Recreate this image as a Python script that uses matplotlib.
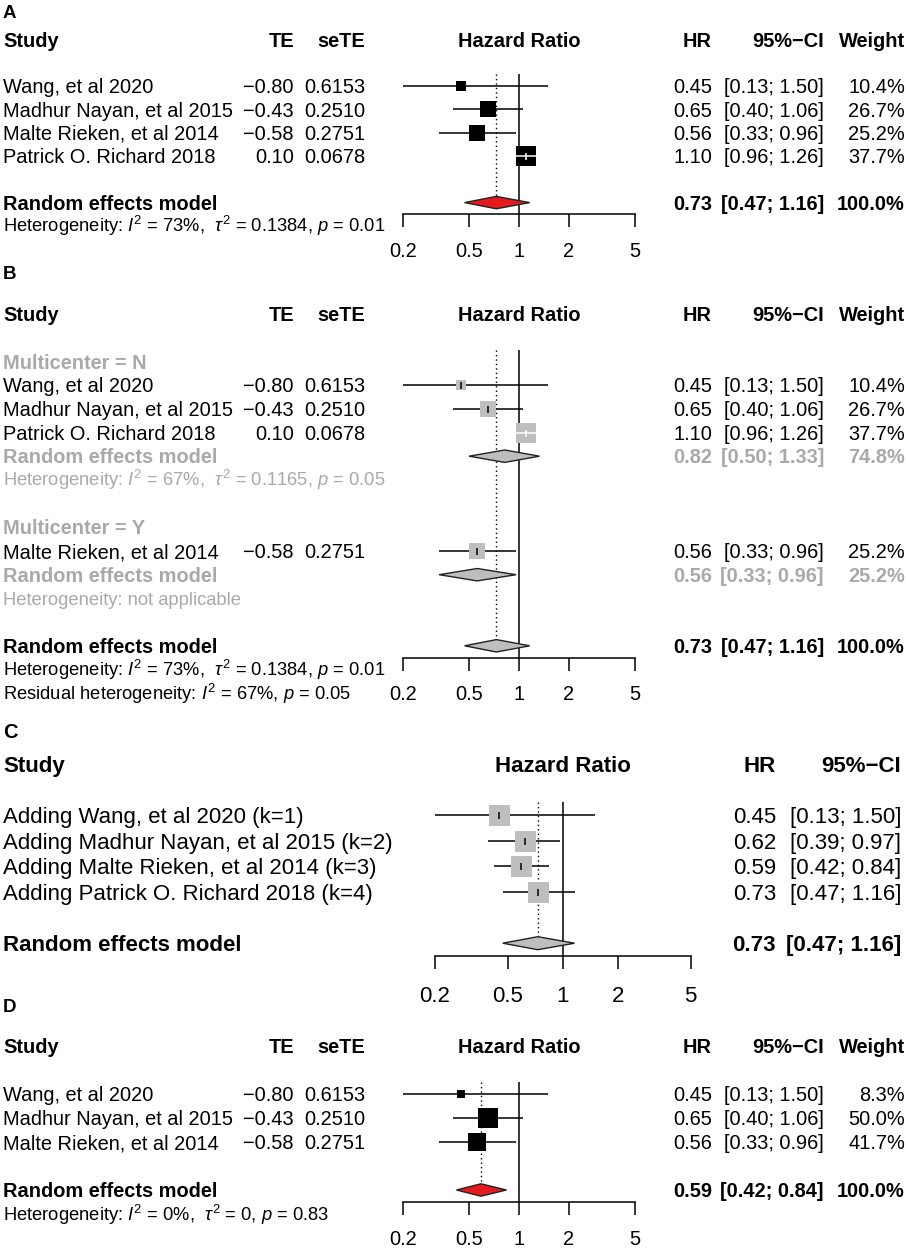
import numpy as np
import matplotlib
matplotlib.use('Agg')
import matplotlib.pyplot as plt
from matplotlib.transforms import blended_transform_factory

plt.rcParams['font.family'] = 'Liberation Sans'
plt.rcParams['mathtext.fontset'] = 'custom'
plt.rcParams['mathtext.rm'] = 'Liberation Sans'
plt.rcParams['mathtext.it'] = 'Liberation Sans:italic'
plt.rcParams['mathtext.bf'] = 'Liberation Sans:bold'

# --- data ---
studies = ['Wang, et al 2020', 'Madhur Nayan, et al 2015',
           'Malte Rieken, et al 2014', 'Patrick O. Richard 2018']
te = [-0.80, -0.43, -0.58, 0.10]
sete = [0.6153, 0.2510, 0.2751, 0.0678]
hr = [0.45, 0.65, 0.56, 1.10]
ci_lo = [0.13, 0.40, 0.33, 0.96]
ci_hi = [1.50, 1.06, 0.96, 1.26]
weights = [10.4, 26.7, 25.2, 37.7]
pooled = (0.73, 0.47, 1.16)
het_overall = r'Heterogeneity: $I^2$ = 73%,  $\tau^2$ = 0.1384, $p$ = 0.01'

# B: subgroups by multicenter
multicenter = ['N', 'N', 'Y', 'N']
sub_levels = ['N', 'Y']
sub_pooled = {'N': (0.82, 0.50, 1.33), 'Y': (0.56, 0.33, 0.96)}
sub_weight = {'N': 74.8, 'Y': 25.2}
sub_het = {'N': r'Heterogeneity: $I^2$ = 67%,  $\tau^2$ = 0.1165, $p$ = 0.05',
           'Y': 'Heterogeneity: not applicable'}
resid_het = r'Residual heterogeneity: $I^2$ = 67%, $p$ = 0.05'

# C: cumulative meta-analysis
cum_labels = ['Adding Wang, et al 2020 (k=1)',
              'Adding Madhur Nayan, et al 2015 (k=2)',
              'Adding Malte Rieken, et al 2014 (k=3)',
              'Adding Patrick O. Richard 2018 (k=4)']
cum_hr = [0.45, 0.62, 0.59, 0.73]
cum_lo = [0.13, 0.39, 0.42, 0.47]
cum_hi = [1.50, 0.97, 0.84, 1.16]

# D: without Patrick O. Richard 2018
d_studies = [0, 1, 2]
d_weights = [8.3, 50.0, 41.7]
d_pooled = (0.59, 0.42, 0.84)
d_het = r'Heterogeneity: $I^2$ = 0%,  $\tau^2$ = 0, $p$ = 0.83'

x_ticks = [0.2, 0.5, 1, 2, 5]
x_tick_labels = ['0.2', '0.5', '1', '2', '5']

# --- layout ---
W, H = 906, 1250
GRAY_TXT = '#a9a9a9'
GRAY_BOX = '#bebebe'
RED = '#e41a1c'
MINUS = '\u2212'

fig = plt.figure(figsize=(W / 100, H / 100), dpi=100)
fig.patch.set_facecolor('white')


def fmt(v, nd=2):
    return f'{v:.{nd}f}'.replace('-', MINUS)


def ci_text(lo, hi):
    return f'[{lo:.2f}; {hi:.2f}]'


def make_axes(x0, x1, top, axis_y, fs, tick_len, pad):
    ax = fig.add_axes([x0 / W, 1 - axis_y / H, (x1 - x0) / W, (axis_y - top) / H])
    ax.set_xscale('log')
    ax.set_xlim(0.2, 5)
    ax.set_ylim(axis_y, top)
    for s in ['left', 'right', 'top']:
        ax.spines[s].set_visible(False)
    ax.spines['bottom'].set_linewidth(1.1)
    ax.set_yticks([])
    ax.set_xticks(x_ticks, labels=x_tick_labels)
    ax.minorticks_off()
    ax.tick_params(axis='x', direction='out', length=tick_len * 0.72, width=1.1,
                   pad=pad, labelsize=fs)
    ax.patch.set_visible(False)
    ax.px_per_ln = (x1 - x0) / np.log(25)
    return ax


def put(ax, xpx, y, s, ha='left', fs=14.4, bold=False, color='black'):
    tr = blended_transform_factory(fig.transFigure, ax.transData)
    ax.text(xpx / W, y + 0.358 * fs * 100 / 72, s, transform=tr, ha=ha,
            va='baseline', fontsize=fs, color=color,
            fontweight='bold' if bold else 'normal', clip_on=False)


def draw_study(ax, est, lo, hi, y, side, box_color):
    half = side / 2 / ax.px_per_ln
    inside = np.log(lo) >= np.log(est) - half and np.log(hi) <= np.log(est) + half
    lc = 'white' if inside else 'black'
    ax.hlines(y, lo, hi, color=lc, lw=1.1, zorder=4 if inside else 2)
    ax.scatter([est], [y], marker='s', s=(side * 0.72) ** 2, color=box_color,
               linewidths=0, zorder=3)
    ax.scatter([est], [y], marker='|', s=(7 * 0.72) ** 2, color=lc,
               linewidths=1.1, zorder=4)


def draw_diamond(ax, est, lo, hi, y, color, h=6.2):
    ax.fill([lo, est, hi, est], [y, y - h, y, y + h], facecolor=color,
            edgecolor='#222222', lw=1.0, zorder=3)


def ref_lines(ax, est, top, bottom):
    ax.axvline(1, color='black', lw=1.1, zorder=1)
    ax.vlines(est, top, bottom, color='black', lw=1.0,
              linestyles=(0, (1, 2.2)), zorder=1)


def header(ax, y, fs, cols):
    for xpx, s, ha in cols:
        put(ax, xpx, y, s, ha=ha, fs=fs, bold=True)


FS = 14.4
FS_HET = 13.2
X_STUDY, X_TE, X_SETE, X_HR, X_CI, X_W = 3, 294, 365, 712, 824, 905
AX0, AX1 = 403, 635
cols_full = [(X_STUDY, 'Study', 'left'), (X_TE, 'TE', 'right'),
             (X_SETE, 'seTE', 'right'), ((AX0 + AX1) / 2, 'Hazard Ratio', 'center'),
             (X_HR, 'HR', 'right'), (X_CI, '95%' + MINUS + 'CI', 'right'),
             (X_W, 'Weight', 'right')]


def study_text(ax, y, i, w, fs=FS):
    put(ax, X_STUDY, y, studies[i], fs=fs)
    put(ax, X_TE, y, fmt(te[i]), ha='right', fs=fs)
    put(ax, X_SETE, y, fmt(sete[i], 4), ha='right', fs=fs)
    put(ax, X_HR, y, fmt(hr[i]), ha='right', fs=fs)
    put(ax, X_CI, y, ci_text(ci_lo[i], ci_hi[i]), ha='right', fs=fs)
    put(ax, X_W, y, f'{w:.1f}%', ha='right', fs=fs)


def pooled_text(ax, y, est, lo, hi, w, color='black'):
    put(ax, X_STUDY, y, 'Random effects model', fs=FS, bold=True, color=color)
    put(ax, X_HR, y, fmt(est), ha='right', fs=FS, bold=True, color=color)
    put(ax, X_CI, y, ci_text(lo, hi), ha='right', fs=FS, bold=True, color=color)
    put(ax, X_W, y, f'{w:.1f}%', ha='right', fs=FS, bold=True, color=color)


def box_sides(ws, max_side=20):
    ws = np.asarray(ws, dtype=float)
    return max_side * np.sqrt(ws / ws.max())


# ---------------- Panel A ----------------
base, step = 39.5, 23.3
yk = lambda k: base + step * k
axA = make_axes(AX0, AX1, yk(1.5), yk(7.5), FS, 12.5, 11)
fig.text(3 / W, 1 - 13 / H, 'A', fontsize=13.5, fontweight='bold', va='center')
header(axA, yk(0), FS, cols_full)
sides = box_sides(weights)
for i in range(len(studies)):
    y = yk(2 + i)
    study_text(axA, y, i, weights[i])
    draw_study(axA, hr[i], ci_lo[i], ci_hi[i], y, sides[i], 'black')
draw_diamond(axA, *pooled, yk(7), RED)
pooled_text(axA, yk(7), *pooled, 100.0)
put(axA, X_STUDY, yk(8), het_overall, fs=FS_HET)
ref_lines(axA, pooled[0], yk(1.5), yk(7) - 6.2)

# ---------------- Panel B ----------------
base, step = 314, 23.7
yk = lambda k: base + step * k
axB = make_axes(AX0, AX1, yk(1.5), yk(14.5), FS, 12.5, 11)
fig.text(3 / W, 1 - 274 / H, 'B', fontsize=13.5, fontweight='bold', va='center')
header(axB, yk(0), FS, cols_full)
k = 2
for lev in sub_levels:
    put(axB, X_STUDY, yk(k), f'Multicenter = {lev}', fs=FS, bold=True, color=GRAY_TXT)
    k += 1
    for i in range(len(studies)):
        if multicenter[i] != lev:
            continue
        study_text(axB, yk(k), i, weights[i])
        draw_study(axB, hr[i], ci_lo[i], ci_hi[i], yk(k), sides[i], GRAY_BOX)
        k += 1
    draw_diamond(axB, *sub_pooled[lev], yk(k), GRAY_BOX)
    pooled_text(axB, yk(k), *sub_pooled[lev], sub_weight[lev], color=GRAY_TXT)
    put(axB, X_STUDY, yk(k + 1), sub_het[lev], fs=FS_HET, color=GRAY_TXT)
    k += 3
draw_diamond(axB, *pooled, yk(14), GRAY_BOX)
put(axB, X_STUDY, yk(14), 'Random effects model', fs=FS, bold=True)
put(axB, X_HR, yk(14), fmt(pooled[0]), ha='right', fs=FS, bold=True)
put(axB, X_CI, yk(14), ci_text(pooled[1], pooled[2]), ha='right', fs=FS, bold=True)
put(axB, X_W, yk(14), '100.0%', ha='right', fs=FS, bold=True)
put(axB, X_STUDY, yk(15), het_overall, fs=FS_HET)
put(axB, X_STUDY, yk(16), resid_het, fs=FS_HET)
ref_lines(axB, pooled[0], yk(1.5), yk(14) - 6.2)

# ---------------- Panel C ----------------
FS_C = 16.0
base, step = 764, 25.6
yk = lambda k: base + step * k
CX0, CX1 = 435, 690.5
CX_HR, CX_CI = 776, 901
axC = make_axes(CX0, CX1, yk(1.5), yk(7.5), FS_C, 13.5, 12)
fig.text(3 / W, 1 - 733 / H, 'C', fontsize=14.5, fontweight='bold', va='center')
header(axC, yk(0), FS_C, [(X_STUDY, 'Study', 'left'),
                          ((CX0 + CX1) / 2, 'Hazard Ratio', 'center'),
                          (CX_HR, 'HR', 'right'), (CX_CI, '95%' + MINUS + 'CI', 'right')])
for i, lab in enumerate(cum_labels):
    y = yk(2 + i)
    put(axC, X_STUDY, y, lab, fs=FS_C)
    put(axC, CX_HR, y, fmt(cum_hr[i]), ha='right', fs=FS_C)
    put(axC, CX_CI, y, ci_text(cum_lo[i], cum_hi[i]), ha='right', fs=FS_C)
    draw_study(axC, cum_hr[i], cum_lo[i], cum_hi[i], y, 21, GRAY_BOX)
draw_diamond(axC, *pooled, yk(7), GRAY_BOX, h=6.5)
put(axC, X_STUDY, yk(7), 'Random effects model', fs=FS_C, bold=True)
put(axC, CX_HR, yk(7), fmt(pooled[0]), ha='right', fs=FS_C, bold=True)
put(axC, CX_CI, yk(7), ci_text(pooled[1], pooled[2]), ha='right', fs=FS_C, bold=True)
ref_lines(axC, pooled[0], yk(1.5), yk(7) - 6.5)

# ---------------- Panel D ----------------
base, step = 1046, 24
yk = lambda k: base + step * k
axD = make_axes(AX0, AX1, yk(1.5), yk(6.5), FS, 12.5, 11)
fig.text(3 / W, 1 - 1008 / H, 'D', fontsize=13.5, fontweight='bold', va='center')
header(axD, yk(0), FS, cols_full)
d_sides = box_sides(d_weights)
for j, i in enumerate(d_studies):
    y = yk(2 + j)
    study_text(axD, y, i, d_weights[j])
    draw_study(axD, hr[i], ci_lo[i], ci_hi[i], y, d_sides[j], 'black')
draw_diamond(axD, *d_pooled, yk(6), RED)
pooled_text(axD, yk(6), *d_pooled, 100.0)
put(axD, X_STUDY, yk(7), d_het, fs=FS_HET)
ref_lines(axD, d_pooled[0], yk(1.5), yk(6) - 6.2)

fig.savefig('out.png', dpi=100, facecolor='white')
